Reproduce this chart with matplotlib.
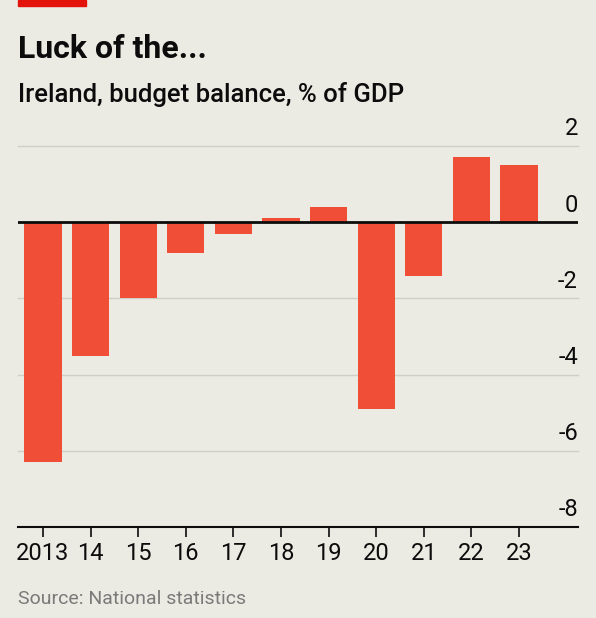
import matplotlib.pyplot as plt
from matplotlib.patches import Rectangle
from matplotlib import font_manager

years = ['2013', '14', '15', '16', '17', '18', '19', '20', '21', '22', '23']
balance = [-6.3, -3.5, -2.0, -0.8, -0.3, 0.1, 0.4, -4.9, -1.4, 1.7, 1.5]
yticks = [2, 0, -2, -4, -6, -8]

names = {f.name for f in font_manager.fontManager.ttflist}
font = 'Liberation Sans Narrow' if 'Liberation Sans Narrow' in names else 'Roboto'
plt.rcParams['font.family'] = [font, 'DejaVu Sans']

bg = '#ECEBE3'
fig = plt.figure(figsize=(5.96, 6.18), dpi=100, facecolor=bg)

# red tag top-left
fig.patches.append(Rectangle((18 / 596, 1 - 6 / 618), 68 / 596, 6 / 618,
                             transform=fig.transFigure, color='#E3120B'))

fig.text(18 / 596, 1 - 58 / 618, 'Luck of the...', fontsize=23, fontweight='bold',
         color='#0C0C0C', va='baseline')
fig.text(18 / 596, 1 - 102 / 618, 'Ireland, budget balance, % of GDP', fontsize=18.5,
         fontweight='medium', color='#0C0C0C', va='baseline')
fig.text(18 / 596, 1 - 604 / 618, 'Source: National statistics', fontsize=14,
         color='#7A7A7A', va='baseline')

ax = fig.add_axes([18 / 596, 1 - 527 / 618, 560 / 596, 381 / 618])
ax.set_facecolor(bg)
x = list(range(len(years)))
ax.bar(x, balance, width=0.78, color='#F04E37', zorder=2)

ax.set_xlim(-0.525, 11.24)
ax.set_ylim(-8, 2)

for v in yticks:
    if v == 0:
        ax.axhline(0, color='#0C0C0C', lw=2, zorder=3)
    elif v == -8:
        ax.axhline(-8, color='#0C0C0C', lw=1.5, zorder=3, clip_on=False)
    else:
        ax.axhline(v, color='#CFCEC6', lw=1, zorder=1, clip_on=False)
    ax.annotate(str(v), xy=(1.0, v), xycoords=ax.get_yaxis_transform(),
                xytext=(0, 4), textcoords='offset points',
                ha='right', va='bottom', fontsize=17, color='#0C0C0C')

for s in ax.spines.values():
    s.set_visible(False)
ax.set_yticks([])
ax.set_xticks(x)
ax.set_xticklabels(years, fontsize=17, color='#0C0C0C')
ax.tick_params(axis='x', length=7, width=1.2, color='#0C0C0C', pad=4)

fig.savefig('out.png', dpi=100, facecolor=bg)
